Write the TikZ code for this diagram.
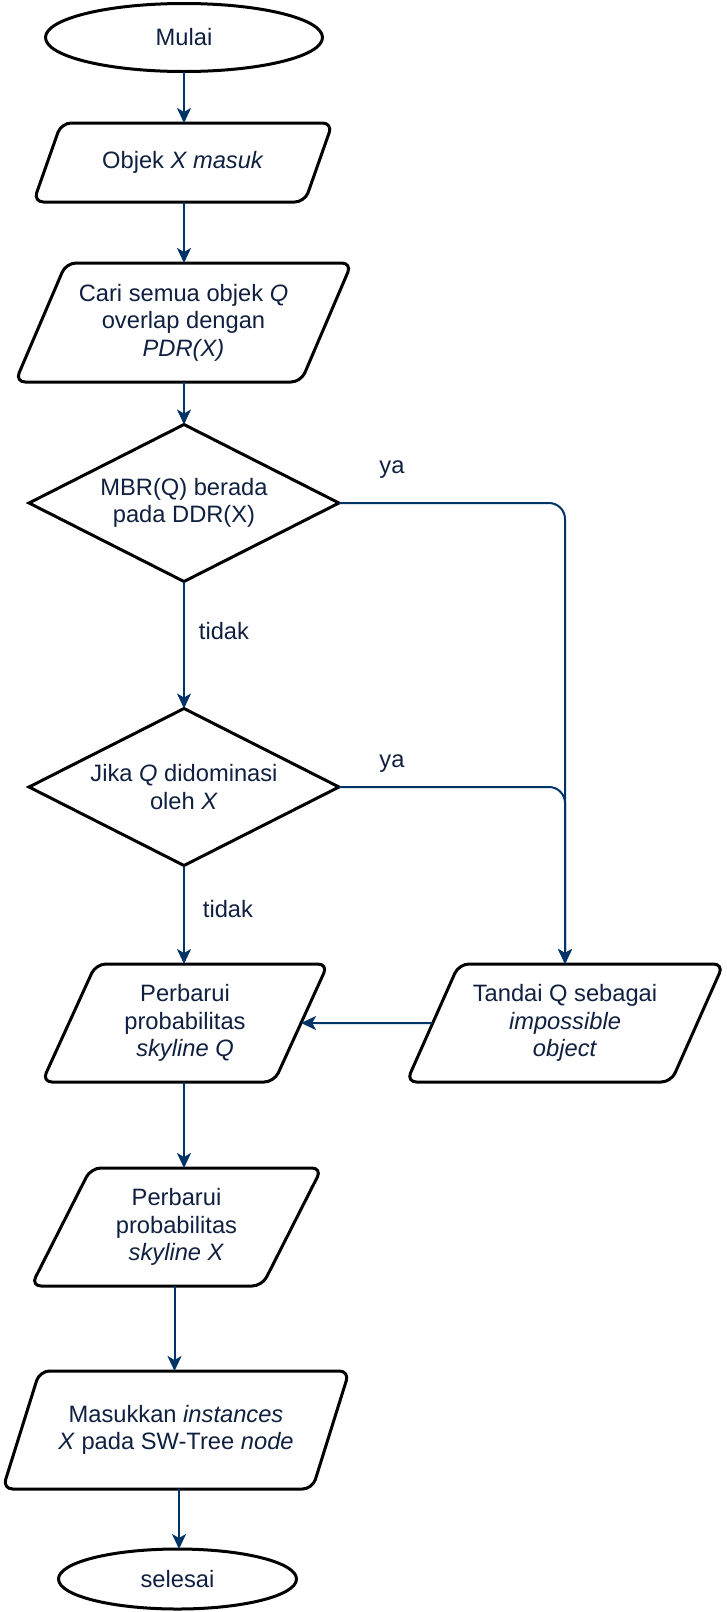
\documentclass[tikz,border=0pt]{standalone}
\usepackage{fontspec}
\setmainfont{Liberation Sans}
\usetikzlibrary{shapes.geometric,arrows.meta,calc}
\definecolor{txtc}{RGB}{16,32,64}
\definecolor{arrowc}{RGB}{0,51,102}
\tikzset{
  base/.style={draw=black, line width=3pt, fill=white, text=txtc,
    font=\fontsize{23.7}{27.5}\selectfont, align=center, inner sep=0pt, outer sep=0pt},
  term/.style={base, ellipse},
  io/.style={base, trapezium, trapezium stretches=true, rounded corners=10pt},
  dec/.style={base, diamond, shape aspect=1.97},
  conn/.style={draw=arrowc, line width=2pt, -{Stealth[length=15pt,width=14pt,inset=4pt]}},
  lbl/.style={text=txtc, font=\fontsize{23.7}{27.5}\selectfont, inner sep=0pt}
}
\begin{document}
\begin{tikzpicture}[x=1pt,y=-1pt]
\useasboundingbox (0,0) rectangle (726,1612);
\node[term, minimum width=277pt, minimum height=68pt] (mulai) at (184,37.5) {Mulai};
\node[io, minimum width=300pt, minimum height=79pt, trapezium left angle=50.1, trapezium right angle=129.9] (objek) at (183,162.5) {Objek \textit{X masuk}};
\node[io, minimum width=337pt, minimum height=119pt, trapezium left angle=59.5, trapezium right angle=120.5] (cari) at (183.5,322.5) {Cari semua objek \textit{Q}\\overlap dengan\\\textit{PDR(X)}};
\node[dec, minimum width=310pt, minimum height=157pt] (d1) at (184,503) {MBR(Q) berada\\pada DDR(X)};
\node[dec, minimum width=310pt, minimum height=157pt] (d2) at (184,787) {Jika \textit{Q} didominasi\\oleh \textit{X}};
\node[io, minimum width=286pt, minimum height=118pt, trapezium left angle=64.6, trapezium right angle=115.4] (pq) at (185,1023) {Perbarui\\probabilitas\\\textit{skyline Q}};
\node[io, minimum width=318pt, minimum height=118pt, trapezium left angle=59.4, trapezium right angle=120.6] (tandai) at (565,1023) {Tandai Q sebagai\\\textit{impossible}\\\textit{object}};
\node[io, minimum width=291pt, minimum height=118pt, trapezium left angle=61.2, trapezium right angle=118.8] (px) at (176.5,1227) {Perbarui\\probabilitas\\\textit{skyline X}};
\node[io, minimum width=347pt, minimum height=118pt, trapezium left angle=57.3, trapezium right angle=122.7] (mas) at (176,1430) {Masukkan \textit{instances}\\\textit{X} pada SW-Tree \textit{node}};
\node[term, minimum width=238pt, minimum height=60pt] (selesai) at (177.5,1579) {selesai};

\node[lbl] (ya1) at (392,470) {ya};
\node[lbl] (ya2) at (392,764) {ya};
\node[lbl] (td1) at (224,631) {tidak};
\node[lbl] (td2) at (228,909) {tidak};

\draw[conn] (mulai.south) -- (mulai.south |- objek.north);
\draw[conn] (objek.south -| mulai.south) -- (mulai.south |- cari.north);
\draw[conn] (cari.south -| d1.north) -- (d1.north);
\draw[conn] (d1.south) -- (d2.north);
\draw[conn] (d2.south) -- (d2.south |- pq.north);
\draw[conn] (pq.south -| d2.south) -- (d2.south |- px.north);
\draw[conn] ($(px.south)+(-2,0)$) -- ($(px.south |- mas.north)+(-2,0)$);
\draw[conn] ($(mas.south)+(3,0)$) -- ($(mas.south |- selesai.north)+(3,0)$);
\draw[conn, rounded corners=16pt] (d1.east) -| (tandai.north);
\draw[conn, rounded corners=16pt] (d2.east) -| (tandai.north);
\draw[conn] (tandai.west) -- (pq.east);
\end{tikzpicture}
\end{document}
